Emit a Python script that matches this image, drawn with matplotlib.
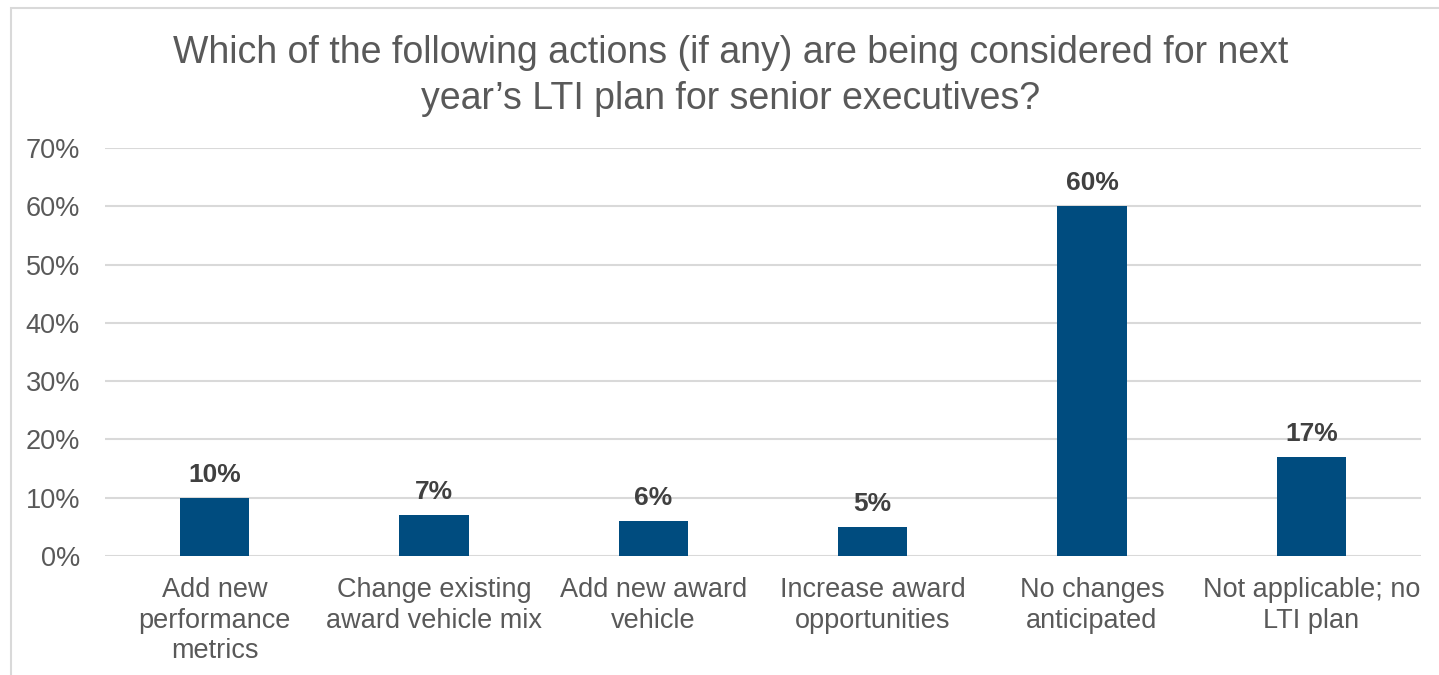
import matplotlib.pyplot as plt
from matplotlib.patches import Rectangle

plt.rcParams['font.family'] = ['Liberation Sans', 'DejaVu Sans']

categories = ["Add new\nperformance\nmetrics", "Change existing\naward vehicle mix",
              "Add new award\nvehicle", "Increase award\nopportunities",
              "No changes\nanticipated", "Not applicable; no\nLTI plan"]
values = [10, 7, 6, 5, 60, 17]
yticks = [0, 10, 20, 30, 40, 50, 60, 70]
title = "Which of the following actions (if any) are being considered for next\nyear\u2019s LTI plan for senior executives?"

fig = plt.figure(figsize=(14.39, 6.75), dpi=100)
ax = fig.add_axes([105 / 1439, 119 / 675, 1316 / 1439, 408 / 675])

x = range(len(values))
ax.bar(x, values, width=0.315, color='#004C7F', zorder=3)
for xi, v in zip(x, values):
    ax.annotate(f"{v}%", (xi, v), xytext=(0, 8), textcoords='offset points',
                ha='center', va='bottom', fontsize=19, fontweight='bold', color='#404040')

ax.set_xlim(-0.5, len(values) - 0.5)
ax.set_ylim(0, 70)
ax.set_yticks(yticks)
ax.set_yticklabels([f"{t}%" for t in yticks])
ax.set_xticks(list(x))
ax.set_xticklabels(categories, linespacing=1.24)
ax.tick_params(axis='y', length=0, pad=18, labelsize=19.5, labelcolor='#595959')
ax.tick_params(axis='x', length=0, pad=15, labelsize=19.5, labelcolor='#595959')
ax.grid(axis='y', color='#D9D9D9', linewidth=1.5, zorder=0)
for s in ax.spines.values():
    s.set_visible(False)

fig.text(731 / 1439, 1 - 76 / 675, title, ha='center', va='center', fontsize=27,
         color='#595959', linespacing=1.36)

fig.patches.append(Rectangle((11 / 1439, -0.05), 1.1, 1 - 8 / 675 + 0.05,
                             transform=fig.transFigure, fill=False,
                             edgecolor='#D9D9D9', linewidth=1.5))

fig.savefig("out.png", dpi=100)
